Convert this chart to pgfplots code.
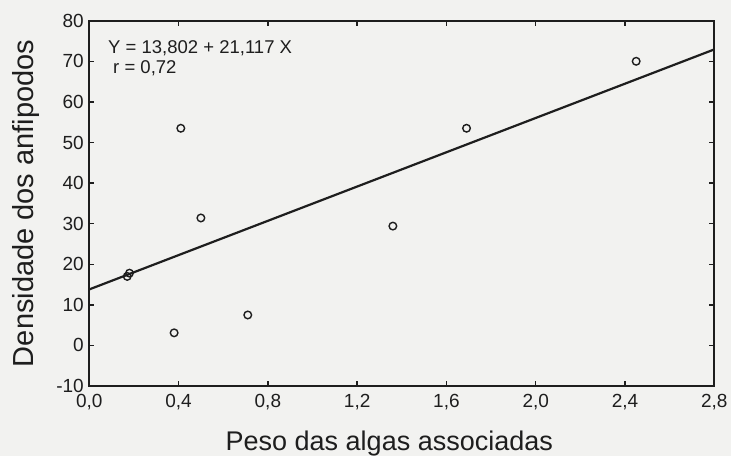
\documentclass[border=0pt]{standalone}
\usepackage{pgfplots}
\pgfplotsset{compat=1.18}
\usepackage{fontspec}
\setmainfont{Liberation Sans}
\definecolor{bg}{RGB}{242,242,240}
\definecolor{ink}{RGB}{30,30,30}
\begin{document}
\begin{tikzpicture}
\useasboundingbox (-89.3pt,-70pt) rectangle (641.7pt,386pt);
\fill[bg] (-89.3pt,-70pt) rectangle (641.7pt,386pt);
\begin{axis}[
  scale only axis,
  width=625pt, height=365.3pt,
  xmin=0, xmax=2.8, ymin=-10, ymax=80,
  xtick={0,0.4,...,2.8}, ytick={-10,0,...,80},
  tick align=inside,
  major tick length=5pt,
  tick style={ink, line width=1.4pt},
  axis line style={ink, line width=1.8pt},
  /pgf/number format/assume math mode=true,
  /pgf/number format/use comma,
  /pgf/number format/fixed,
  /pgf/number format/fixed zerofill,
  xticklabel style={/pgf/number format/precision=1, font=\fontsize{19}{22}\selectfont, text=ink, yshift=-5pt},
  yticklabel style={/pgf/number format/precision=0, /pgf/number format/fixed zerofill=false, font=\fontsize{19}{22}\selectfont, text=ink, xshift=-2pt},
  xlabel={Peso das algas associadas},
  ylabel={Densidade dos anfipodos},
  xlabel style={font=\fontsize{27}{30}\selectfont, text=ink, at={(axis description cs:0.48,-0.1752)}, anchor=base},
  ylabel style={font=\fontsize{29}{32}\selectfont, text=ink, at={(axis description cs:-0.0893,0.50)}, anchor=base},
  clip=false,
]
\addplot[ink, line width=2.2pt] coordinates {(0,13.802) (2.8,72.93)};
\addplot[only marks, mark=o, mark size=3.8pt, mark options={ink, line width=1.4pt}] coordinates {
  (0.17,17.0) (0.18,17.8) (0.38,3.1) (0.41,53.5) (0.50,31.4) (0.71,7.5)
  (1.36,29.4) (1.69,53.5) (2.45,70.0)
};
\node[anchor=base west, font=\fontsize{18.5}{20}\selectfont, text=ink, inner sep=0pt] at (axis description cs:0.030,0.911) {Y = 13,802 + 21,117 X};
\node[anchor=base west, font=\fontsize{18.5}{20}\selectfont, text=ink, inner sep=0pt] at (axis description cs:0.038,0.856) {r = 0,72};
\end{axis}
\end{tikzpicture}
\end{document}
